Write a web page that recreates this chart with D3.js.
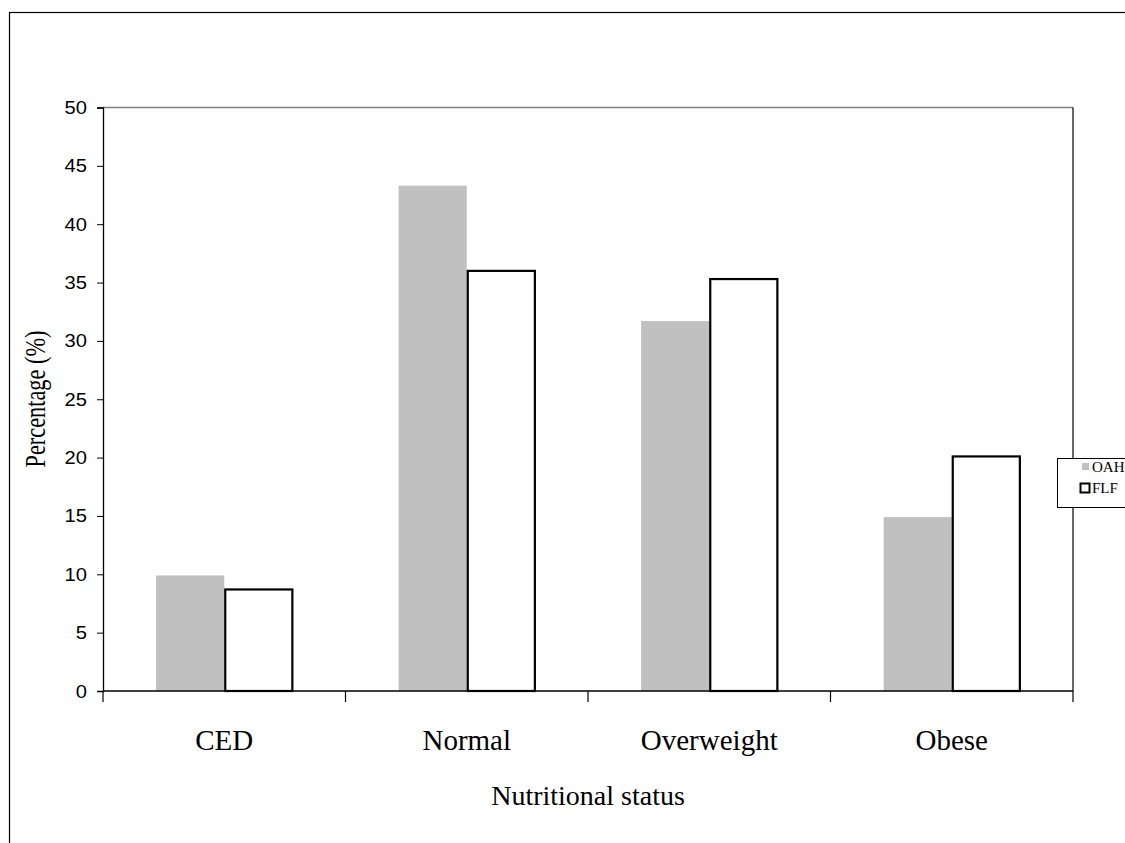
<!DOCTYPE html>
<html>
<head>
<meta charset="utf-8">
<script src="https://cdn.jsdelivr.net/npm/d3@7"></script>
<style>
  body { margin: 0; background: #fff; }
  svg { display: block; }
</style>
</head>
<body>
<svg id="chart" width="1125" height="843"></svg>
<script>
// data
var categories = ["CED", "Normal", "Overweight", "Obese"];
var seriesNames = ["OAH", "FLF"];
var oah = [9.9, 43.3, 31.7, 14.9];
var flf = [8.7, 36.0, 35.3, 20.1];
var yTicks = [0, 5, 10, 15, 20, 25, 30, 35, 40, 45, 50];

var svg = d3.select("#chart");
var serif = "Liberation Serif, Times New Roman, serif";
var sans = "Liberation Sans, Arial, sans-serif";

// outer chart frame (runs off the right and bottom)
svg.append("rect")
    .attr("x", 9.5).attr("y", 12.5)
    .attr("width", 1200).attr("height", 900)
    .attr("fill", "none").attr("stroke", "#000").attr("stroke-width", 1.2);

var pLeft = 103, pRight = 1073, pTop = 107.5, pBottom = 691;

var x = d3.scaleBand().domain(categories).range([pLeft, pRight]);
var xInner = d3.scaleBand().domain(seriesNames).range([0, x.bandwidth()])
    .paddingOuter(0.78);
var y = d3.scaleLinear().domain([0, 50]).range([pBottom, pTop]);

// plot area border
svg.append("line").attr("x1", pLeft).attr("x2", pRight).attr("y1", pTop).attr("y2", pTop)
    .attr("stroke", "#808080").attr("stroke-width", 1.5);
svg.append("line").attr("x1", pRight).attr("x2", pRight).attr("y1", pTop).attr("y2", pBottom)
    .attr("stroke", "#000").attr("stroke-width", 1.2);

// bars
var rows = categories.map(function(c, i) { return {cat: c, vals: [oah[i], flf[i]]}; });

var groups = svg.selectAll("g.grp")
    .data(rows)
    .enter().append("g")
    .attr("class", "grp")
    .attr("transform", function(d) { return "translate(" + x(d.cat) + ",0)"; });

groups.append("rect")
    .attr("x", xInner("OAH"))
    .attr("y", function(d) { return y(d.vals[0]); })
    .attr("width", xInner.bandwidth())
    .attr("height", function(d) { return pBottom - y(d.vals[0]); })
    .attr("fill", "#c0c0c0");

groups.append("rect")
    .attr("x", xInner("FLF") + 1)
    .attr("y", function(d) { return y(d.vals[1]); })
    .attr("width", xInner.bandwidth() - 1)
    .attr("height", function(d) { return pBottom - y(d.vals[1]); })
    .attr("fill", "#fff").attr("stroke", "#000").attr("stroke-width", 2.2);

// y axis
var yAxis = svg.append("g")
    .attr("transform", "translate(" + pLeft + ",0)")
    .call(d3.axisLeft(y).tickValues(yTicks).tickSize(6).tickFormat(""));
yAxis.select(".domain").attr("stroke", "#000").attr("stroke-width", 1.3);
yAxis.selectAll("line").attr("stroke", "#000");

svg.selectAll("text.ylab")
    .data(yTicks)
    .enter().append("text")
    .attr("class", "ylab")
    .attr("transform", function(d) { return "translate(87," + (y(d) + 6.5) + ") scale(1.12,1)"; })
    .attr("text-anchor", "end")
    .attr("font-family", sans)
    .attr("font-size", 18)
    .text(function(d) { return d; });

// x axis
svg.append("line").attr("x1", pLeft).attr("x2", pRight).attr("y1", pBottom).attr("y2", pBottom)
    .attr("stroke", "#000").attr("stroke-width", 1.5);
var bounds = categories.map(function(c) { return x(c); }).concat([pRight]);
svg.selectAll("line.xtick")
    .data(bounds)
    .enter().append("line")
    .attr("class", "xtick")
    .attr("x1", function(d) { return d; }).attr("x2", function(d) { return d; })
    .attr("y1", pBottom).attr("y2", pBottom + 11)
    .attr("stroke", "#000").attr("stroke-width", 1.2);

svg.selectAll("text.xlab")
    .data(categories)
    .enter().append("text")
    .attr("class", "xlab")
    .attr("x", function(d) { return x(d) + x.bandwidth() / 2; })
    .attr("y", 750)
    .attr("text-anchor", "middle")
    .attr("font-family", serif)
    .attr("font-size", 29)
    .text(function(d) { return d; });

// axis titles
svg.append("text")
    .attr("x", 588).attr("y", 805)
    .attr("text-anchor", "middle")
    .attr("font-family", serif)
    .attr("font-size", 28)
    .text("Nutritional status");

svg.append("text")
    .attr("transform", "translate(45,399) rotate(-90) scale(0.77,1)")
    .attr("text-anchor", "middle")
    .attr("font-family", serif)
    .attr("font-size", 29)
    .text("Percentage (%)");

// legend (cut off at the right edge)
var legend = svg.append("g").attr("transform", "translate(1057,458)");
legend.append("rect")
    .attr("x", 0.5).attr("y", 0.5).attr("width", 100).attr("height", 49)
    .attr("fill", "#fff").attr("stroke", "#000").attr("stroke-width", 1);
legend.append("rect")
    .attr("x", 25).attr("y", 5).attr("width", 7).attr("height", 7)
    .attr("fill", "#c0c0c0");
legend.append("rect")
    .attr("x", 23.5).attr("y", 25.5).attr("width", 9).attr("height", 9)
    .attr("fill", "#fff").attr("stroke", "#000").attr("stroke-width", 2);
legend.selectAll("text.leg")
    .data(seriesNames)
    .enter().append("text")
    .attr("class", "leg")
    .attr("x", 35)
    .attr("y", function(d, i) { return 14 + i * 21; })
    .attr("font-family", serif)
    .attr("font-size", 15)
    .text(function(d) { return d; });
</script>
</body>
</html>
